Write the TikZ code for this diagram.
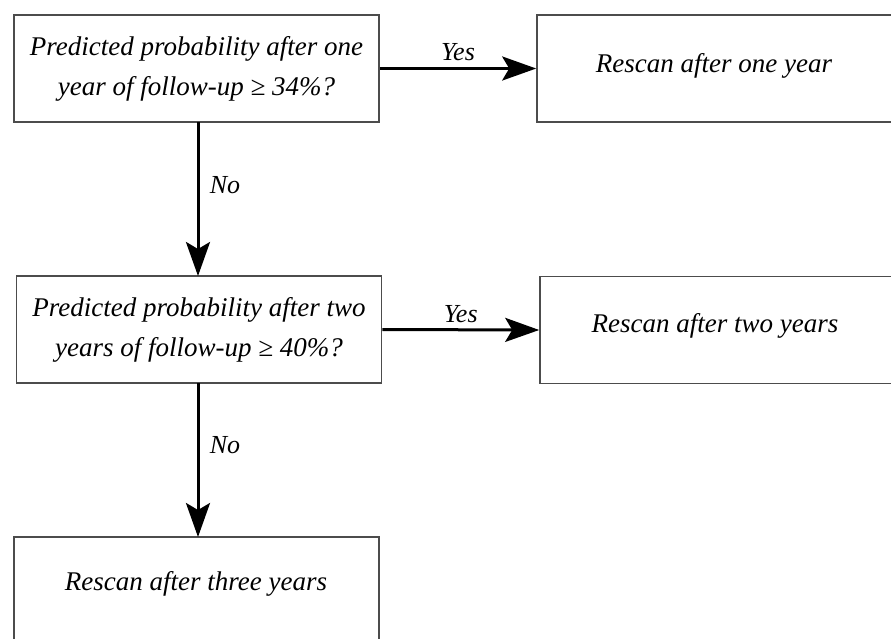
\documentclass[tikz,border=0pt]{standalone}
\usepackage{fontspec}
\setmainfont{Liberation Serif}
\usetikzlibrary{arrows.meta}
\tikzset{
  box/.style={draw=black!70, line width=1.6pt, minimum width=365pt, minimum height=107pt, inner sep=0pt, align=center, font=\fontsize{27}{40}\selectfont\itshape, fill=white},
  boxtext/.style={font=\fontsize{27}{40}\selectfont\itshape, inner sep=0pt},
  conn/.style={line width=3pt, -{Stealth[length=34pt,width=24pt,inset=7pt]}},
  lbl/.style={font=\fontsize{26}{28}\selectfont\itshape, inner sep=0pt}
}
\begin{document}
\begin{tikzpicture}[x=1pt,y=-1pt]
\clip (0,0) rectangle (891,638);
\fill[white] (0,0) rectangle (891,638);
\node[box] (q1) at (196.5,68.5) {Predicted probability after one\\year of follow-up ≥ 34\%?};
\node[box, minimum width=360pt] (r1) at (717,68.5) {};
\node[boxtext] (t1) at (714,66) {Rescan after one year};
\node[box] (q2) at (199,329.5) {Predicted probability after two\\years of follow-up ≥ 40\%?};
\node[box, minimum width=360pt] (r2) at (720,330) {};
\node[boxtext] (t2) at (715,326) {Rescan after two years};
\node[box] (r3) at (196.5,590.5) {};
\node[boxtext] (t3) at (196,584) {Rescan after three years};
\draw[conn] (q1.east) -- (r1.west) node[lbl, midway, above=6pt] (y1) {Yes};
\draw[conn] (q2.east) -- (r2.west) node[lbl, midway, above=6pt] (y2) {Yes};
\draw[conn] (198,122) coordinate (a1) -- (198,276) coordinate (b1);
\draw[conn] (198,383) coordinate (a2) -- (198,537) coordinate (b2);
\node[lbl] (n1) at (225,185) {No};
\node[lbl] (n2) at (225,445) {No};
\end{tikzpicture}
\end{document}
